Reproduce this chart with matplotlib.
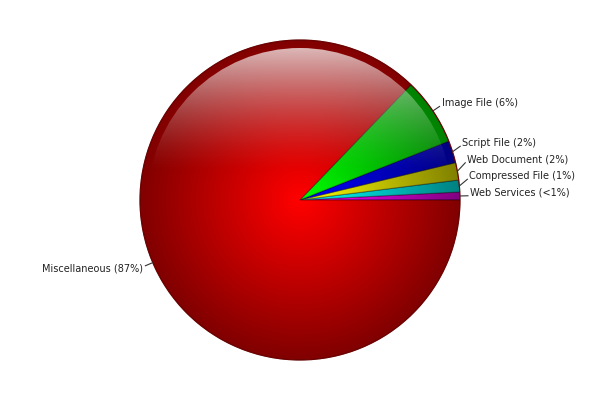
import numpy as np
import matplotlib
matplotlib.use("Agg")
import matplotlib.pyplot as plt
from matplotlib.patches import Circle

# dados (percentuais)
categorias = ["Web Services", "Compressed File", "Web Document",
              "Script File", "Image File", "Miscellaneous"]
valores = [0.8, 1.2, 1.75, 2.25, 6.8, 87.2]
rotulos = ["Web Services (<1%)", "Compressed File (1%)", "Web Document (2%)",
           "Script File (2%)", "Image File (6%)", "Miscellaneous (87%)"]
cores = ["#ff00ff", "#00ffff", "#ffff00", "#0000ff", "#00ff00", "#ff0000"]

CX, CY, R = 300, 200, 160

fig = plt.figure(figsize=(6, 4), dpi=100)
ax = fig.add_axes([0, 0, 1, 1])

wedges, _ = ax.pie(valores, colors=cores, startangle=0, counterclock=True,
                   center=(CX, CY), radius=R, frame=True,
                   wedgeprops=dict(linewidth=0.8, edgecolor=(0, 0, 0, 0.35)))
ax.set_xlim(0, 600)
ax.set_ylim(0, 400)
ax.set_aspect("equal")
ax.axis("off")

# escurecimento radial (centro claro, borda escura)
n = 400
xs = np.linspace(CX - R, CX + R, n)
ys = np.linspace(CY - R, CY + R, n)
X, Y = np.meshgrid(xs, ys)
dist = np.hypot(X - CX, Y - CY) / R
sombra = np.zeros((n, n, 4))
sombra[..., 3] = np.clip(0.5 * dist, 0, 0.5)
clip_externo = Circle((CX, CY), R, transform=ax.transData)
im = ax.imshow(sombra, extent=(CX - R, CX + R, CY - R, CY + R),
               origin="lower", zorder=3, interpolation="bilinear")
im.set_clip_path(clip_externo)

# brilho de vidro na metade de cima
brilho = np.ones((n, n, 4))
t = np.clip((Y - CY - 25) / 127, 0, 1)
brilho[..., 3] = 0.72 * t ** 1.5
clip_interno = Circle((CX, CY), R - 8, transform=ax.transData)
im2 = ax.imshow(brilho, extent=(CX - R, CX + R, CY - R, CY + R),
                origin="lower", zorder=4, interpolation="bilinear")
im2.set_clip_path(clip_interno)

ax.add_patch(Circle((CX, CY), R, fill=False, edgecolor="#700000",
                    linewidth=0.8, zorder=5))

# rotulos com linhas guia
total = sum(valores)
acumulado = 0
posicoes = []
for v in valores:
    meio = np.deg2rad((acumulado + v / 2) / total * 360)
    acumulado += v
    posicoes.append(meio)

y_ant = None
for i, ang in enumerate(posicoes):
    x0 = CX + R * np.cos(ang)
    y0 = CY + R * np.sin(ang)
    x1 = CX + (R + 8) * np.cos(ang)
    y1 = CY + (R + 8) * np.sin(ang)
    direita = np.cos(ang) >= 0
    if direita and np.sin(ang) >= 0:
        if y_ant is not None and y1 < y_ant + 16.5:
            y1 = y_ant + 16.5
        y_ant = y1
    sinal = 1 if np.sin(ang) >= 0 else -1
    ax.plot([x0, x1], [y0, y1], color="#333333", linewidth=0.8, zorder=6)
    ax.text(x1 + (2 if direita else -2), y1 + 3 * sinal, rotulos[i],
            ha="left" if direita else "right", va="center",
            fontsize=7, color="#222222", zorder=6)

fig.savefig("out.png", dpi=100)
